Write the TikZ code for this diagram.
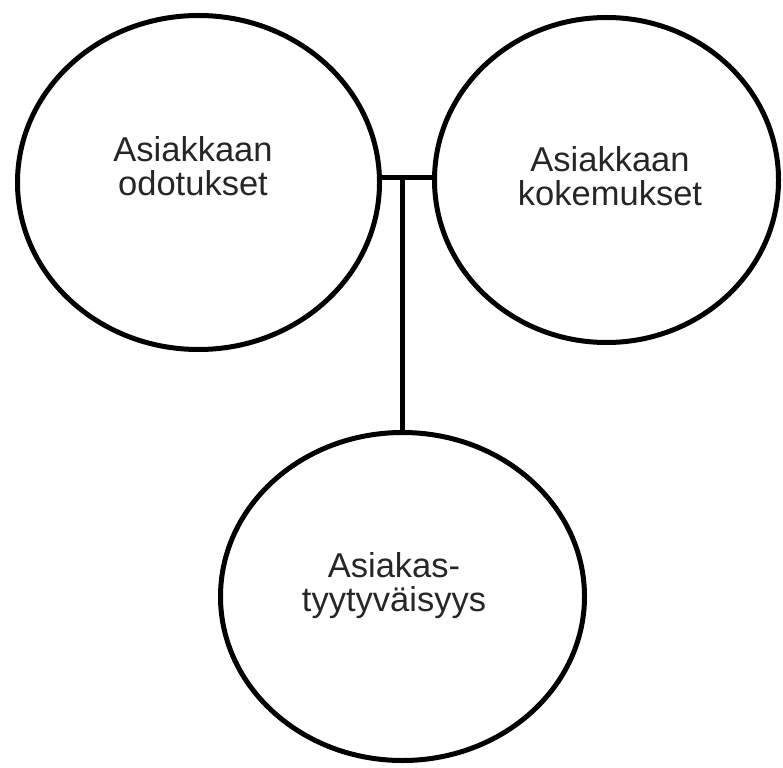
\documentclass[tikz,border=0pt]{standalone}
\usepackage{fontspec}
\setmainfont{Liberation Sans}
\usetikzlibrary{shapes.geometric}
\begin{document}
\begin{tikzpicture}[x=1pt,y=-1pt,
  bubble/.style={draw=black,line width=5pt,ellipse,inner sep=0pt},
  caption/.style={align=center,font=\fontsize{34.5}{34}\selectfont,text=black!85,inner sep=0pt},
  link/.style={draw=black,line width=5pt}]
\useasboundingbox (0,0) rectangle (783,767);
\node[bubble,minimum width=362pt,minimum height=334pt] (L) at (198.5,182.5) {};
\node[bubble,minimum width=344pt,minimum height=325pt] (R) at (606.5,180) {};
\node[bubble,minimum width=364pt,minimum height=328pt] (B) at (402.5,596.5) {};
\node[caption] (tL) at (193,166) {Asiakkaan\\odotukset};
\node[caption] (tR) at (610,176) {Asiakkaan\\kokemukset};
\node[caption] (tB) at (394,586) {Asiakas-\\tyytyväisyys};
\coordinate (J) at (402.5,178);
\draw[link] (J -| L.east) -- (J -| R.west);
\draw[link] (J) -- (B.north);
\end{tikzpicture}
\end{document}
